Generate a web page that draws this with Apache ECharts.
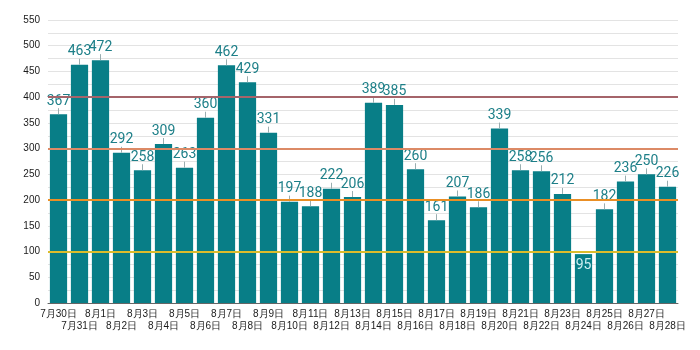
<!DOCTYPE html>
<html>
<head>
<meta charset="utf-8">
<script src="https://cdn.jsdelivr.net/npm/echarts@6/dist/echarts.min.js"></script>
<style>
  html, body { margin: 0; padding: 0; background: #fff; }
  #chart { width: 700px; height: 350px; }
</style>
</head>
<body>
<div id="chart"></div>
<script>
// Daily counts, 7/30 – 8/28
const days = ['7月30日','7月31日','8月1日','8月2日','8月3日','8月4日','8月5日','8月6日','8月7日','8月8日',
  '8月9日','8月10日','8月11日','8月12日','8月13日','8月14日','8月15日','8月16日','8月17日','8月18日',
  '8月19日','8月20日','8月21日','8月22日','8月23日','8月24日','8月25日','8月26日','8月27日','8月28日'];
const counts = [367,463,472,292,258,309,263,360,462,429,
  331,197,188,222,206,389,385,260,161,207,
  186,339,258,256,212,95,182,236,250,226];
// Reference levels and their colours
const levels = [400, 300, 200, 100];
const levelColors = ['#a5646a', '#dc8a66', '#ea8f25', '#dcbc2c'];

const barColor = '#087e87';
const labelColor = '#1d7f88';

const chart = echarts.init(document.getElementById('chart'));

const barData = counts.map(v => {
  if (v < 100) {
    return { value: v, label: { position: 'insideTop', color: '#cdeff2', distance: 4 } };
  }
  return v;
});

chart.setOption({
  animation: false,
  grid: { left: 48, right: 22, top: 20, bottom: 47 },
  xAxis: {
    type: 'category',
    data: days,
    axisTick: { show: false },
    axisLine: { lineStyle: { color: '#666', width: 1 } },
    axisLabel: {
      interval: 0,
      fontSize: 10,
      color: '#1a1a1a',
      margin: 5,
      lineHeight: 12,
      formatter: (v, i) => (i % 2 === 0 ? v : '\n' + v)
    }
  },
  yAxis: {
    type: 'value',
    min: 0,
    max: 550,
    interval: 50,
    axisLine: { show: false },
    axisTick: { show: false },
    axisLabel: { fontSize: 10, color: '#1a1a1a', margin: 8 },
    splitLine: { lineStyle: { color: '#e3e3e3', width: 1 } },
    minorTick: { show: false, splitNumber: 2 },
    minorSplitLine: { show: true, lineStyle: { color: '#e3e3e3', width: 1 } }
  },
  series: [
    {
      type: 'bar',
      data: barData,
      barCategoryGap: '18%',
      itemStyle: { color: barColor },
      label: {
        show: true,
        position: 'top',
        distance: 6,
        fontSize: 14,
        fontFamily: 'Roboto',
        color: labelColor
      },
      markLine: {
        silent: true,
        symbol: 'none',
        label: { show: false },
        data: levels.map((y, i) => ({
          yAxis: y,
          lineStyle: { color: levelColors[i], width: 2, type: 'solid' }
        }))
      },
      z: 2
    },
    {
      // short leader tick from each bar top up towards its value label
      type: 'custom',
      data: counts.map((v, i) => [i, v]),
      renderItem: (params, api) => {
        const v = api.value(1);
        if (v < 100) return null;
        const p = api.coord([api.value(0), v]);
        return {
          type: 'line',
          shape: { x1: p[0], y1: p[1], x2: p[0], y2: p[1] - 6 },
          style: { stroke: '#9aaeb0', lineWidth: 1 }
        };
      },
      z: 3,
      silent: true
    }
  ]
});
</script>
</body>
</html>
